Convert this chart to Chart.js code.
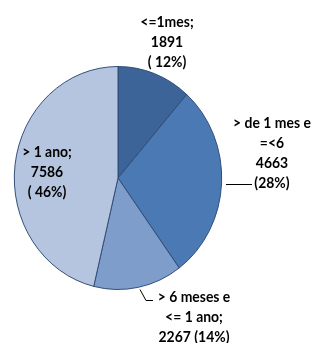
<!DOCTYPE html>
<html>
<head>
<meta charset="utf-8">
<script src="https://cdn.jsdelivr.net/npm/chart.js@4/dist/chart.umd.min.js"></script>
<style>
  html, body { margin: 0; padding: 0; background: #fff; }
  #wrap { position: relative; width: 313px; height: 343px; }
</style>
</head>
<body>
<div id="wrap"><canvas id="pie" width="313" height="343"></canvas></div>
<script>
// data
const categories = ['<=1mes', '> de 1 mes e =<6', '> 6 meses e <= 1 ano', '> 1 ano'];
const counts = [1891, 4663, 2267, 7586];
// label text as it is written on each slice ({v} = count, {p} = percent)
const labelLines = [
    ['<=1mes;', '{v}', '( {p}%)'],
    ['> de 1 mes e', '=<6', '{v}', '({p}%)'],
    ['> 6 meses e', '<= 1 ano;', '{v} ({p}%)'],
    ['> 1 ano;', '{v}', '( {p}%)']
];
const sliceColors = ['#3D6498', '#4A79B4', '#7F9DCA', '#B6C5DF'];

// where each label sits, relative to the pie centre
const labelLayout = [
    { dx: 49, dy: -156, leader: null },
    { dx: 154, dy: -55, leader: [[108, 6], [134, 6]] },
    { dx: 76, dy: 119, leader: [[22, 111], [28, 122], [35, 122]] },
    { dx: -71, dy: -26, leader: null }
];
const squeeze = 0.93; // the original pie (and its text) is a little narrower than tall

const total = counts.reduce((a, b) => a + b, 0);

const ellipse = {
    id: 'ellipse',
    beforeDatasetsDraw(chart) {
        const arc = chart.getDatasetMeta(0).data[0];
        const ctx = chart.ctx;
        ctx.save();
        ctx.translate(arc.x, arc.y);
        ctx.scale(squeeze, 1);
        ctx.translate(-arc.x, -arc.y);
    },
    afterDatasetsDraw(chart) {
        chart.ctx.restore();
    }
};

const sliceLabels = {
    id: 'sliceLabels',
    afterDraw(chart) {
        const ctx = chart.ctx;
        const meta = chart.getDatasetMeta(0);
        ctx.save();
        ctx.font = 'bold 15px Lato';
        ctx.fillStyle = '#000';
        ctx.textAlign = 'center';
        ctx.textBaseline = 'middle';
        ctx.strokeStyle = '#000';
        ctx.lineWidth = 1;
        meta.data.forEach((arc, i) => {
            const lay = labelLayout[i];
            const pct = Math.round(counts[i] / total * 100);
            labelLines[i].forEach((t, j) => {
                const txt = t.replace('{v}', counts[i]).replace('{p}', pct);
                ctx.save();
                ctx.translate(arc.x + lay.dx, arc.y + lay.dy + j * 20);
                ctx.scale(squeeze, 1);
                ctx.fillText(txt, 0, 0);
                ctx.restore();
            });
            if (lay.leader) {
                ctx.beginPath();
                lay.leader.forEach((p, k) => {
                    const px = arc.x + p[0], py = arc.y + p[1] + 0.5;
                    if (k === 0) ctx.moveTo(px, py); else ctx.lineTo(px, py);
                });
                ctx.stroke();
            }
        });
        ctx.restore();
    }
};

new Chart(document.getElementById('pie').getContext('2d'), {
    type: 'pie',
    data: {
        labels: categories,
        datasets: [{
            data: counts,
            backgroundColor: sliceColors,
            borderColor: '#2F4B74',
            borderWidth: 1
        }]
    },
    options: {
        responsive: false,
        animation: false,
        layout: { padding: { left: 6, right: 83, top: 66, bottom: 53 } },
        plugins: {
            legend: { display: false },
            tooltip: { enabled: false }
        }
    },
    plugins: [ellipse, sliceLabels]
});
</script>
</body>
</html>
